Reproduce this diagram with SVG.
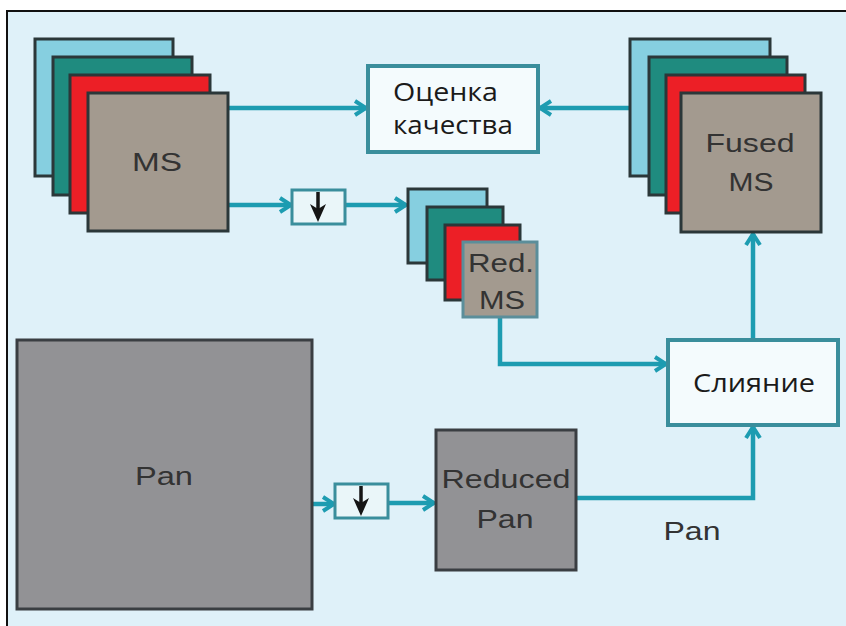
<svg xmlns="http://www.w3.org/2000/svg" width="846" height="626" viewBox="0 0 846 626">
<defs>
<style>
.l1{fill:#86cfe0;stroke:#2b3739;stroke-width:3}
.l2{fill:#1f8b7f;stroke:#2b3739;stroke-width:3}
.l3{fill:#ec1f26;stroke:#2b3739;stroke-width:3}
.l4{fill:#a39a8f;stroke:#2b3739;stroke-width:3}
.gray{fill:#929295;stroke:#3a3e42;stroke-width:3}
.box{fill:#f4fbfd;stroke:#3a8e9c;stroke-width:4}
.dbox{fill:#eaf6f9;stroke:#3a8e9c;stroke-width:3}
.conn{fill:none;stroke:#1d9cb1;stroke-width:4.5;marker-end:url(#ah)}
.lat{font-family:"Liberation Sans",Arial,sans-serif;font-size:25px;fill:#333;text-anchor:middle}
.cyr{font-family:"Open Sans","DejaVu Sans",sans-serif;font-size:26px;fill:#1a1a1a}
.shaft{stroke:#151515;stroke-width:3.5}
.head{fill:#151515}
</style>
<marker id="ah" markerUnits="userSpaceOnUse" markerWidth="18" markerHeight="18" viewBox="0 0 18 18" refX="16" refY="9" orient="auto">
<path d="M5,2 L16,9 L5,16" fill="none" stroke="#1d9cb1" stroke-width="4"/>
</marker>
</defs>
<rect x="0" y="0" width="846" height="626" fill="#ffffff"/>
<rect x="7" y="11" width="850" height="630" fill="#dff1f9"/>
<path d="M7,626 V11 H846" fill="none" stroke="#111" stroke-width="2"/>

<g id="connectors">
<path class="conn" d="M228,108 H366"/>
<path class="conn" d="M630,108 H540"/>
<path class="conn" d="M228,205 H291"/>
<path class="conn" d="M345,205 H406"/>
<path class="conn" d="M500,317 V364 H666"/>
<path class="conn" d="M753,340 V234"/>
<path class="conn" d="M312,504 H334"/>
<path class="conn" d="M388,503 H434"/>
<path class="conn" d="M576,498 H753 V427"/>
</g>

<g id="ms">
<rect class="l1" x="35" y="39" width="138" height="137"/>
<rect class="l2" x="53" y="57" width="139" height="138"/>
<rect class="l3" x="70" y="75" width="140" height="138"/>
<rect class="l4" x="88" y="93" width="140" height="138"/>
<text class="lat" x="157" y="171" textLength="50" lengthAdjust="spacingAndGlyphs">MS</text>
</g>

<g id="quality">
<rect class="box" x="368" y="66" width="170" height="86"/>
<text class="cyr" x="393" y="101" textLength="105" lengthAdjust="spacingAndGlyphs">Оценка</text>
<text class="cyr" x="393" y="134" textLength="120" lengthAdjust="spacingAndGlyphs">качества</text>
</g>

<g id="fused">
<rect class="l1" x="630" y="39" width="140" height="137"/>
<rect class="l2" x="649" y="57" width="138" height="138"/>
<rect class="l3" x="666" y="75" width="139" height="138"/>
<rect class="l4" x="681" y="93" width="140" height="139"/>
<text class="lat" x="750" y="152" textLength="89" lengthAdjust="spacingAndGlyphs">Fused</text>
<text class="lat" x="751" y="191" textLength="45" lengthAdjust="spacingAndGlyphs">MS</text>
</g>

<g id="down1">
<rect class="dbox" x="292" y="190" width="53" height="34"/>
<path class="shaft" d="M318,192 V214"/>
<path class="head" d="M310,204 L318,222 L326,204 L318,209 Z"/>
</g>

<g id="redms">
<rect class="l1" x="408" y="189" width="79" height="74"/>
<rect class="l2" x="427" y="207" width="76" height="73"/>
<rect class="l3" x="445" y="225" width="75" height="75"/>
<rect x="463" y="242" width="74" height="75" fill="#a39a8f" stroke="#5b8e9a" stroke-width="3"/>
<text class="lat" x="501" y="272" textLength="66" lengthAdjust="spacingAndGlyphs">Red.</text>
<text class="lat" x="502" y="309" textLength="46" lengthAdjust="spacingAndGlyphs">MS</text>
</g>

<g id="fusion">
<rect class="box" x="668" y="340" width="170" height="85"/>
<text class="cyr" x="693" y="392" textLength="122" lengthAdjust="spacingAndGlyphs">Слияние</text>
</g>

<g id="pan">
<rect class="gray" x="17" y="340" width="295" height="269"/>
<text class="lat" x="164" y="485" textLength="58" lengthAdjust="spacingAndGlyphs">Pan</text>
</g>

<g id="down2">
<rect class="dbox" x="335" y="484" width="53" height="34"/>
<path class="shaft" d="M361,486 V508"/>
<path class="head" d="M353,498 L361,516 L369,498 L361,503 Z"/>
</g>

<g id="redpan">
<rect class="gray" x="436" y="430" width="140" height="140"/>
<text class="lat" x="506" y="488" textLength="129" lengthAdjust="spacingAndGlyphs">Reduced</text>
<text class="lat" x="505" y="528" textLength="57" lengthAdjust="spacingAndGlyphs">Pan</text>
</g>

<text class="lat" x="692" y="540" textLength="57" lengthAdjust="spacingAndGlyphs">Pan</text>
</svg>
